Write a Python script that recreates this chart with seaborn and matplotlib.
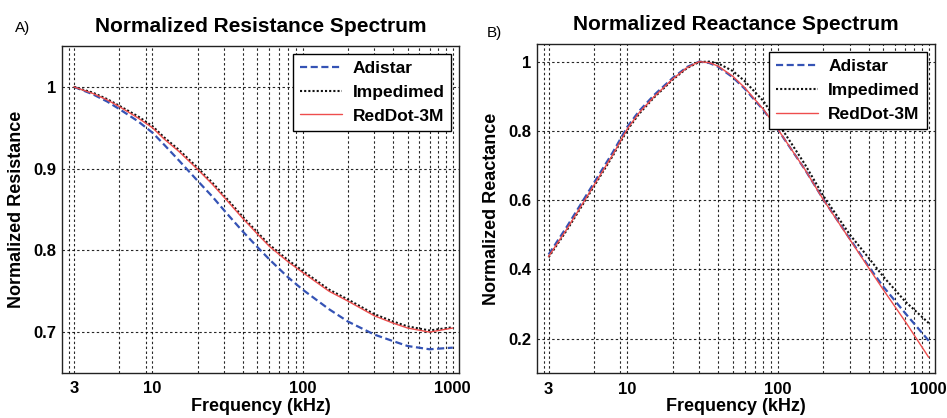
import numpy as np
import pandas as pd
import matplotlib
matplotlib.use("Agg")
import matplotlib.pyplot as plt
import matplotlib.ticker as mticker
import seaborn as sns

# ---------------- data ----------------
freq = [3, 4, 5, 6, 8, 10, 12, 15, 20, 25, 30, 35, 40, 50, 60, 80, 100,
        150, 200, 300, 400, 500, 700, 1000]

res_adistar = [1.000, 0.991, 0.982, 0.973, 0.958, 0.944, 0.929, 0.910, 0.885, 0.866,
               0.849, 0.835, 0.823, 0.804, 0.789, 0.767, 0.752, 0.728, 0.713, 0.697,
               0.689, 0.683, 0.679, 0.681]
res_impedimed = [1.000, 0.993, 0.985, 0.977, 0.964, 0.952, 0.938, 0.923, 0.901, 0.883,
                 0.867, 0.853, 0.841, 0.822, 0.807, 0.788, 0.775, 0.752, 0.740, 0.722,
                 0.713, 0.707, 0.702, 0.706]
res_reddot = [1.000, 0.992, 0.984, 0.976, 0.962, 0.950, 0.936, 0.921, 0.899, 0.881,
              0.865, 0.851, 0.839, 0.820, 0.805, 0.786, 0.773, 0.750, 0.738, 0.720,
              0.711, 0.705, 0.700, 0.705]

rea_adistar = [0.443, 0.526, 0.594, 0.650, 0.738, 0.812, 0.858, 0.903, 0.953, 0.985,
               1.000, 0.996, 0.985, 0.955, 0.922, 0.860, 0.803, 0.690, 0.602, 0.488,
               0.408, 0.350, 0.273, 0.194]
rea_impedimed = [0.435, 0.516, 0.584, 0.640, 0.728, 0.803, 0.850, 0.896, 0.948, 0.982,
                 0.999, 1.000, 0.995, 0.973, 0.944, 0.886, 0.823, 0.705, 0.612, 0.500,
                 0.433, 0.379, 0.307, 0.245]
rea_reddot = [0.437, 0.519, 0.587, 0.643, 0.731, 0.806, 0.853, 0.898, 0.950, 0.983,
              1.000, 0.997, 0.987, 0.958, 0.925, 0.862, 0.804, 0.690, 0.601, 0.486,
              0.404, 0.341, 0.249, 0.146]

series_names = ["Adistar", "Impedimed", "RedDot-3M"]
x_ticks = [3, 10, 100, 1000]
x_ticklabels = ["3", "10", "100", "1000"]
res_yticks = [0.7, 0.8, 0.9, 1.0]
res_yticklabels = ["0.7", "0.8", "0.9", "1"]
rea_yticks = [0.2, 0.4, 0.6, 0.8, 1.0]
rea_yticklabels = ["0.2", "0.4", "0.6", "0.8", "1"]

# ---------------- styling ----------------
sns.set_theme(style="white")
plt.rcParams["font.family"] = ["Liberation Sans", "DejaVu Sans"]
plt.rcParams["text.color"] = "black"
plt.rcParams["axes.labelcolor"] = "black"
plt.rcParams["xtick.color"] = "black"
plt.rcParams["ytick.color"] = "black"
plt.rcParams["axes.titlecolor"] = "black"

palette = {"Adistar": "#3553b5", "Impedimed": "#111111", "RedDot-3M": "#ee4d4d"}
dashes = {"Adistar": (3.2, 1.6), "Impedimed": (1, 1), "RedDot-3M": ""}
widths = {"Adistar": 1.6, "Impedimed": 1.5, "RedDot-3M": 1.0}

def make_df(a, b, c):
    rows = []
    for name, vals in zip(series_names, [a, b, c]):
        for f, v in zip(freq, vals):
            rows.append({"freq": f, "value": v, "device": name})
    return pd.DataFrame(rows)

fig = plt.figure(figsize=(9.47, 4.18), dpi=100)
axL = fig.add_axes([0.0655, 0.1077, 0.4192, 0.7823])
axR = fig.add_axes([0.5667, 0.1069, 0.4206, 0.7871])

minor_locs = [2.78, 6, 9, 20, 30, 40, 50, 60, 70, 80, 90,
              200, 300, 400, 500, 600, 700, 800, 900]

def style_axes(ax, df, yticks, yticklabels, ylim, title, ylabel):
    sns.lineplot(data=df, x="freq", y="value", hue="device", style="device",
                 palette=palette, dashes=dashes, ax=ax, legend=False,
                 estimator=None, sort=False)
    for line, name in zip(ax.get_lines(), series_names):
        line.set_linewidth(widths[name])
    ax.set_xscale("log")
    ax.set_xlim(2.5, 1100)
    ax.set_ylim(*ylim)
    ax.xaxis.set_major_locator(mticker.FixedLocator(x_ticks))
    ax.xaxis.set_major_formatter(mticker.FixedFormatter(x_ticklabels))
    ax.xaxis.set_minor_locator(mticker.FixedLocator(minor_locs))
    ax.xaxis.set_minor_formatter(mticker.NullFormatter())
    ax.set_yticks(yticks)
    ax.set_yticklabels(yticklabels)
    gkw = dict(color="black", linestyle=(0, (2.2, 2.2)), linewidth=0.8, alpha=0.85)
    ax.grid(True, which="major", axis="both", **gkw)
    ax.grid(True, which="minor", axis="x", **gkw)
    ax.set_axisbelow(True)
    ax.tick_params(axis="x", which="both", length=0, pad=6)
    ax.tick_params(axis="y", which="both", length=0, pad=4)
    for lab in ax.get_xticklabels() + ax.get_yticklabels():
        lab.set_fontweight("bold")
        lab.set_fontsize(12)
    for sp in ax.spines.values():
        sp.set_visible(True)
        sp.set_color("#222222")
        sp.set_linewidth(1.0)
    ax.set_title(title, fontsize=15, fontweight="bold", pad=10)
    ax.set_xlabel("Frequency (kHz)", fontsize=13, fontweight="bold", labelpad=1)
    ax.set_ylabel(ylabel, fontsize=13, fontweight="bold", labelpad=6)
    handles = []
    for n in series_names:
        if dashes[n]:
            h = plt.Line2D([], [], color=palette[n], linewidth=widths[n],
                           linestyle=(0, dashes[n]))
        else:
            h = plt.Line2D([], [], color=palette[n], linewidth=widths[n], linestyle="-")
        handles.append(h)
    leg = ax.legend(handles, series_names, loc="upper right", fancybox=False,
                    framealpha=1, edgecolor="black", fontsize=12.5,
                    handlelength=2.4, borderaxespad=0.45, labelspacing=0.5,
                    borderpad=0.4, handletextpad=0.6)
    leg.get_frame().set_linewidth(1.0)
    for t in leg.get_texts():
        t.set_fontweight("bold")

style_axes(axL, make_df(res_adistar, res_impedimed, res_reddot),
           res_yticks, res_yticklabels, (0.65, 1.05),
           "Normalized Resistance Spectrum", "Normalized Resistance")
style_axes(axR, make_df(rea_adistar, rea_impedimed, rea_reddot),
           rea_yticks, rea_yticklabels, (0.1, 1.05),
           "Normalized Reactance Spectrum", "Normalized Reactance")

fig.text(15 / 947, 1 - 28 / 418, "A)", fontsize=11, va="center", ha="left")
fig.text(487 / 947, 1 - 33 / 418, "B)", fontsize=11, va="center", ha="left")

fig.savefig("out.png", dpi=100)
